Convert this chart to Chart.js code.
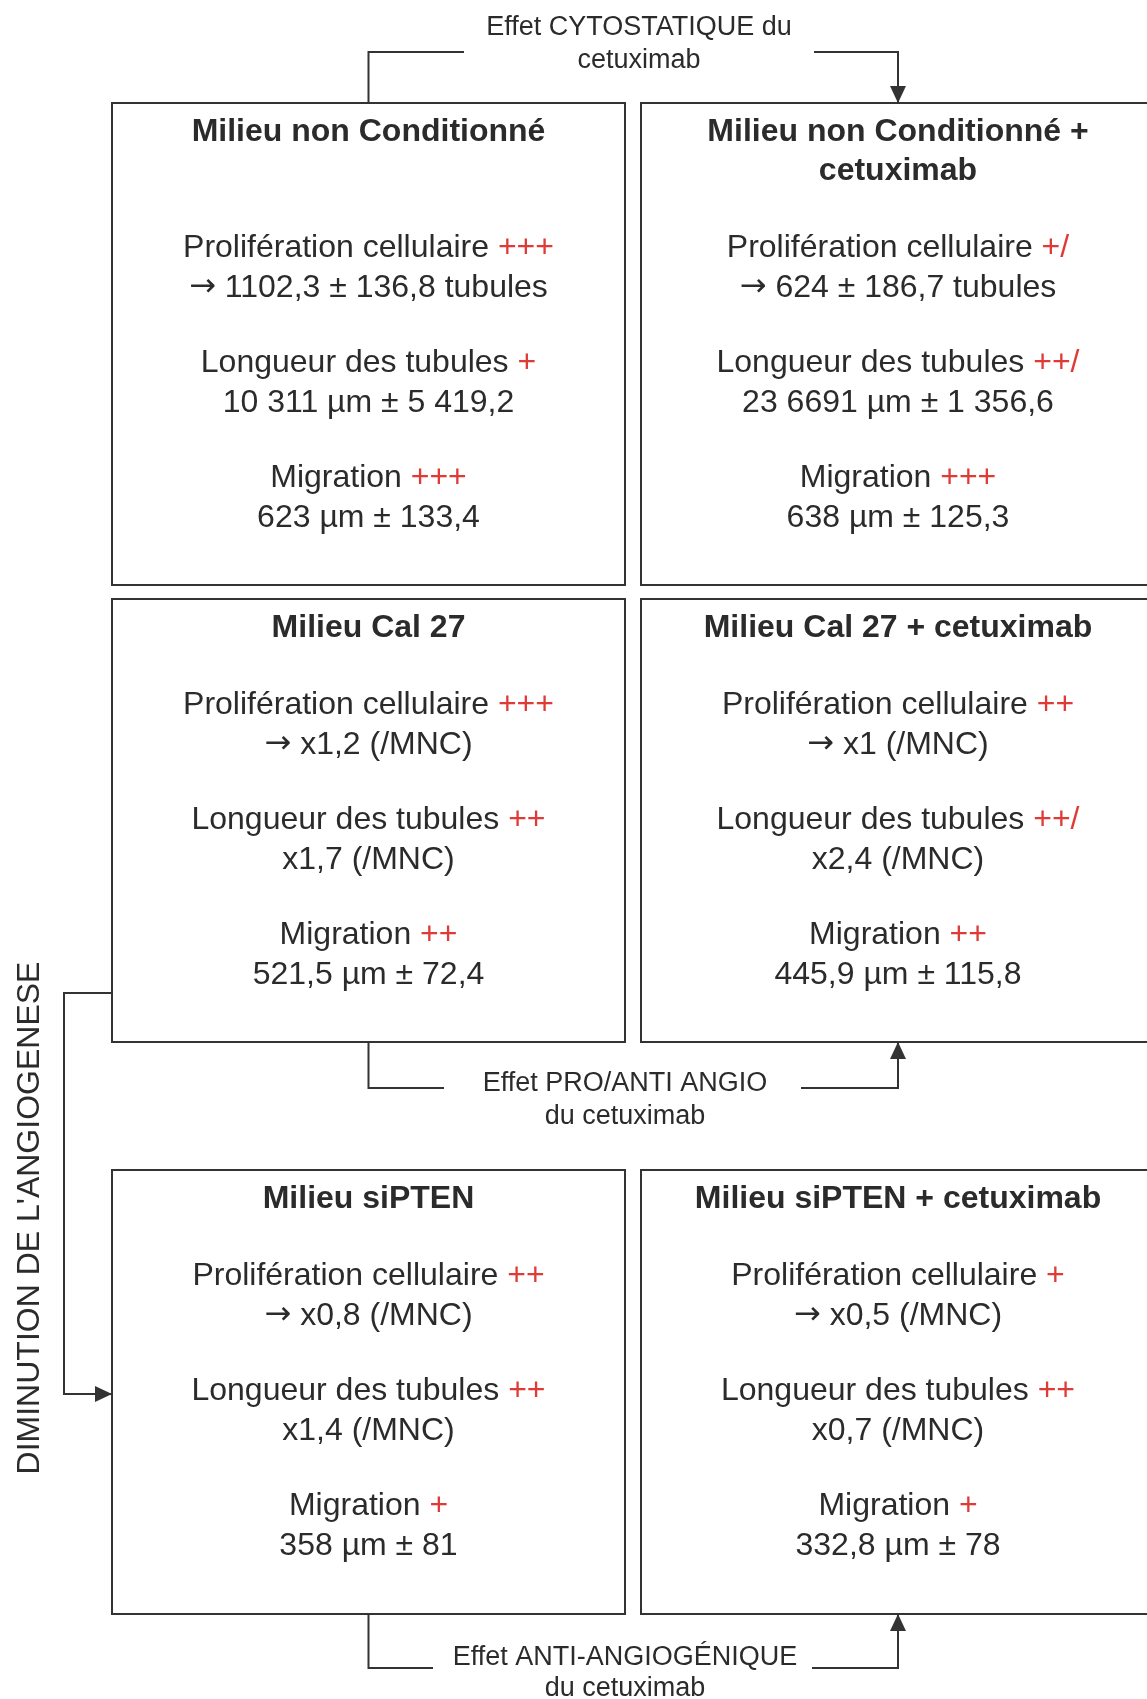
<!DOCTYPE html>
<html>
<head>
<meta charset="utf-8">
<script src="https://cdn.jsdelivr.net/npm/chart.js@4.4.1/dist/chart.umd.min.js"></script>
<style>
html,body{margin:0;padding:0;background:#fff;}
#wrap{width:1147px;height:1699px;position:relative;}
</style>
</head>
<body>
<div id="wrap"><canvas id="c"></canvas></div>
<script>
// ---- DATA ----
const panelTitles = [
  ["Milieu non Conditionné"],
  ["Milieu non Conditionné +", "cetuximab"],
  ["Milieu Cal 27"],
  ["Milieu Cal 27 + cetuximab"],
  ["Milieu siPTEN"],
  ["Milieu siPTEN + cetuximab"]
];
const metricLabels = ["Prolifération cellulaire", "Longueur des tubules", "Migration"];
const metricScores = [
  ["+++", "+", "+++"],
  ["+/", "++/", "+++"],
  ["+++", "++", "++"],
  ["++", "++/", "++"],
  ["++", "++", "+"],
  ["+", "++", "+"]
];
const metricValues = [
  ["→ 1102,3 ± 136,8 tubules", "10 311 µm ± 5 419,2", "623 µm ± 133,4"],
  ["→ 624 ± 186,7 tubules", "23 6691 µm ± 1 356,6", "638 µm ± 125,3"],
  ["→ x1,2 (/MNC)", "x1,7 (/MNC)", "521,5 µm ± 72,4"],
  ["→ x1 (/MNC)", "x2,4 (/MNC)", "445,9 µm ± 115,8"],
  ["→ x0,8 (/MNC)", "x1,4 (/MNC)", "358 µm ± 81"],
  ["→ x0,5 (/MNC)", "x0,7 (/MNC)", "332,8 µm ± 78"]
];
const effectLabels = [
  ["Effet CYTOSTATIQUE du", "cetuximab"],
  ["Effet PRO/ANTI ANGIO", "du cetuximab"],
  ["Effet ANTI-ANGIOGÉNIQUE", "du cetuximab"]
];
const sideLabel = "DIMINUTION DE L'ANGIOGENESE";

// ---- LAYOUT (data units of the hidden linear scales) ----
const colBounds = [[112, 625], [641, 1160]];
const rowBounds = [[103, 585], [599, 1042], [1170, 1614]];
const layout = {
  titleOffset: 29, titleGap: 39, bodyGap: 38, lineGap: 40, metricGap: 115,
  effects: [
    {textX: 639, textY: [28, 61], lineY: 52, leftEnd: 464, rightStart: 814, fromY: 103, dir: 'down'},
    {textX: 625, textY: [1084, 1117], lineY: 1088, leftEnd: 444, rightStart: 801, fromY: 1042, dir: 'up'},
    {textX: 625, textY: [1658, 1689], lineY: 1668, leftEnd: 433, rightStart: 812, fromY: 1614, dir: 'up'}
  ],
  side: {fromY: 993, toY: 1394, x: 64, textX: 30, textY: 1218}
};
const style = {
  font: '"Liberation Sans", Arial, Helvetica, sans-serif',
  arrowFont: '"DejaVu Sans", sans-serif',
  body: 32, title: 32, effect: 27, side: 32,
  text: '#2b2b2b', red: '#e03a36', line: '#333333', lw: 2
};

const diagramPlugin = {
  id: 'diagram',
  afterDraw(chart) {
    const ctx = chart.ctx;
    const xs = chart.scales.x, ys = chart.scales.y;
    const X = v => xs.getPixelForValue(v);
    const Y = v => ys.getPixelForValue(v);
    ctx.save();
    ctx.strokeStyle = style.line;
    ctx.lineWidth = style.lw;
    ctx.fillStyle = style.line;

    function poly(pts) {
      ctx.beginPath();
      ctx.moveTo(X(pts[0][0]), Y(pts[0][1]));
      for (let i = 1; i < pts.length; i++) ctx.lineTo(X(pts[i][0]), Y(pts[i][1]));
      ctx.stroke();
    }
    function arrowHead(x, y, dir) {
      const px = X(x), py = Y(y), s = 8, l = 17;
      ctx.beginPath();
      if (dir === 'down') { ctx.moveTo(px, py); ctx.lineTo(px - s, py - l); ctx.lineTo(px + s, py - l); }
      else if (dir === 'up') { ctx.moveTo(px, py); ctx.lineTo(px - s, py + l); ctx.lineTo(px + s, py + l); }
      else { ctx.moveTo(px, py); ctx.lineTo(px - l, py - s); ctx.lineTo(px - l, py + s); }
      ctx.closePath();
      ctx.fill();
    }
    // draws a string centred at cx; a leading "→" is set in the arrow font
    function valueText(str, cx, y) {
      const bodyFont = style.body + 'px ' + style.font;
      const arrFont = style.body + 'px ' + style.arrowFont;
      if (str.startsWith('→')) {
        const rest = str.slice(1);
        ctx.font = arrFont; const wa = ctx.measureText('→').width;
        ctx.font = bodyFont; const wr = ctx.measureText(rest).width;
        const sx = cx - (wa + wr) / 2;
        ctx.textAlign = 'left';
        ctx.font = arrFont; ctx.fillText('→', sx, y);
        ctx.font = bodyFont; ctx.fillText(rest, sx + wa, y);
      } else {
        ctx.font = bodyFont; ctx.textAlign = 'center';
        ctx.fillText(str, cx, y);
      }
    }

    // boxes
    rowBounds.forEach(r => colBounds.forEach(c => {
      ctx.strokeRect(X(c[0]), Y(r[0]), X(c[1]) - X(c[0]), Y(r[1]) - Y(r[0]));
    }));

    ctx.textBaseline = 'middle';
    // panel texts
    panelTitles.forEach((title, i) => {
      const row = Math.floor(i / 2), col = i % 2;
      const c = colBounds[col], r = rowBounds[row];
      const cx = X((c[0] + Math.min(c[1], 1155)) / 2);
      const nTitle = Math.max(panelTitles[row * 2].length, panelTitles[row * 2 + 1].length);
      ctx.font = 'bold ' + style.title + 'px ' + style.font;
      ctx.fillStyle = style.text;
      ctx.textAlign = 'center';
      title.forEach((t, k) => ctx.fillText(t, cx, Y(r[0] + layout.titleOffset + k * layout.titleGap)));
      const bodyStart = r[0] + layout.titleOffset + nTitle * layout.titleGap + layout.bodyGap;
      metricLabels.forEach((lab, m) => {
        ctx.font = style.body + 'px ' + style.font;
        const y1 = bodyStart + m * layout.metricGap;
        const head = lab + ' ';
        const sc = metricScores[i][m];
        const w1 = ctx.measureText(head).width, w2 = ctx.measureText(sc).width;
        const sx = cx - (w1 + w2) / 2;
        ctx.textAlign = 'left';
        ctx.fillStyle = style.text;
        ctx.fillText(head, sx, Y(y1));
        ctx.fillStyle = style.red;
        ctx.fillText(sc, sx + w1, Y(y1));
        ctx.fillStyle = style.text;
        valueText(metricValues[i][m], cx, Y(y1 + layout.lineGap));
      });
    });

    // effect connectors
    const cL = (colBounds[0][0] + colBounds[0][1]) / 2;
    const cR = (colBounds[1][0] + 1155) / 2;
    ctx.fillStyle = style.line;
    layout.effects.forEach((e, i) => {
      poly([[cL, e.fromY], [cL, e.lineY], [e.leftEnd, e.lineY]]);
      poly([[e.rightStart, e.lineY], [cR, e.lineY], [cR, e.fromY]]);
      arrowHead(cR, e.fromY, e.dir);
      ctx.font = style.effect + 'px ' + style.font;
      ctx.fillStyle = style.text;
      ctx.textAlign = 'center';
      effectLabels[i].forEach((t, k) => ctx.fillText(t, X(e.textX), Y(e.textY[k])));
      ctx.fillStyle = style.line;
    });

    // side connector
    const s = layout.side;
    poly([[colBounds[0][0], s.fromY], [s.x, s.fromY], [s.x, s.toY], [colBounds[0][0], s.toY]]);
    arrowHead(colBounds[0][0], s.toY, 'right');
    ctx.save();
    ctx.translate(X(s.textX), Y(s.textY));
    ctx.rotate(-Math.PI / 2);
    ctx.font = style.side + 'px ' + style.font;
    ctx.fillStyle = style.text;
    ctx.textAlign = 'center';
    ctx.fillText(sideLabel, 0, 0);
    ctx.restore();

    ctx.restore();
  }
};

new Chart(document.getElementById('c'), {
  type: 'scatter',
  data: { datasets: [{ data: [], pointRadius: 0 }] },
  options: {
    responsive: true,
    maintainAspectRatio: false,
    animation: false,
    layout: { padding: 0 },
    plugins: { legend: { display: false }, tooltip: { enabled: false } },
    scales: {
      x: { type: 'linear', min: 0, max: 1147, display: false },
      y: { type: 'linear', min: 0, max: 1699, reverse: true, display: false }
    }
  },
  plugins: [diagramPlugin]
});
</script>
</body>
</html>
